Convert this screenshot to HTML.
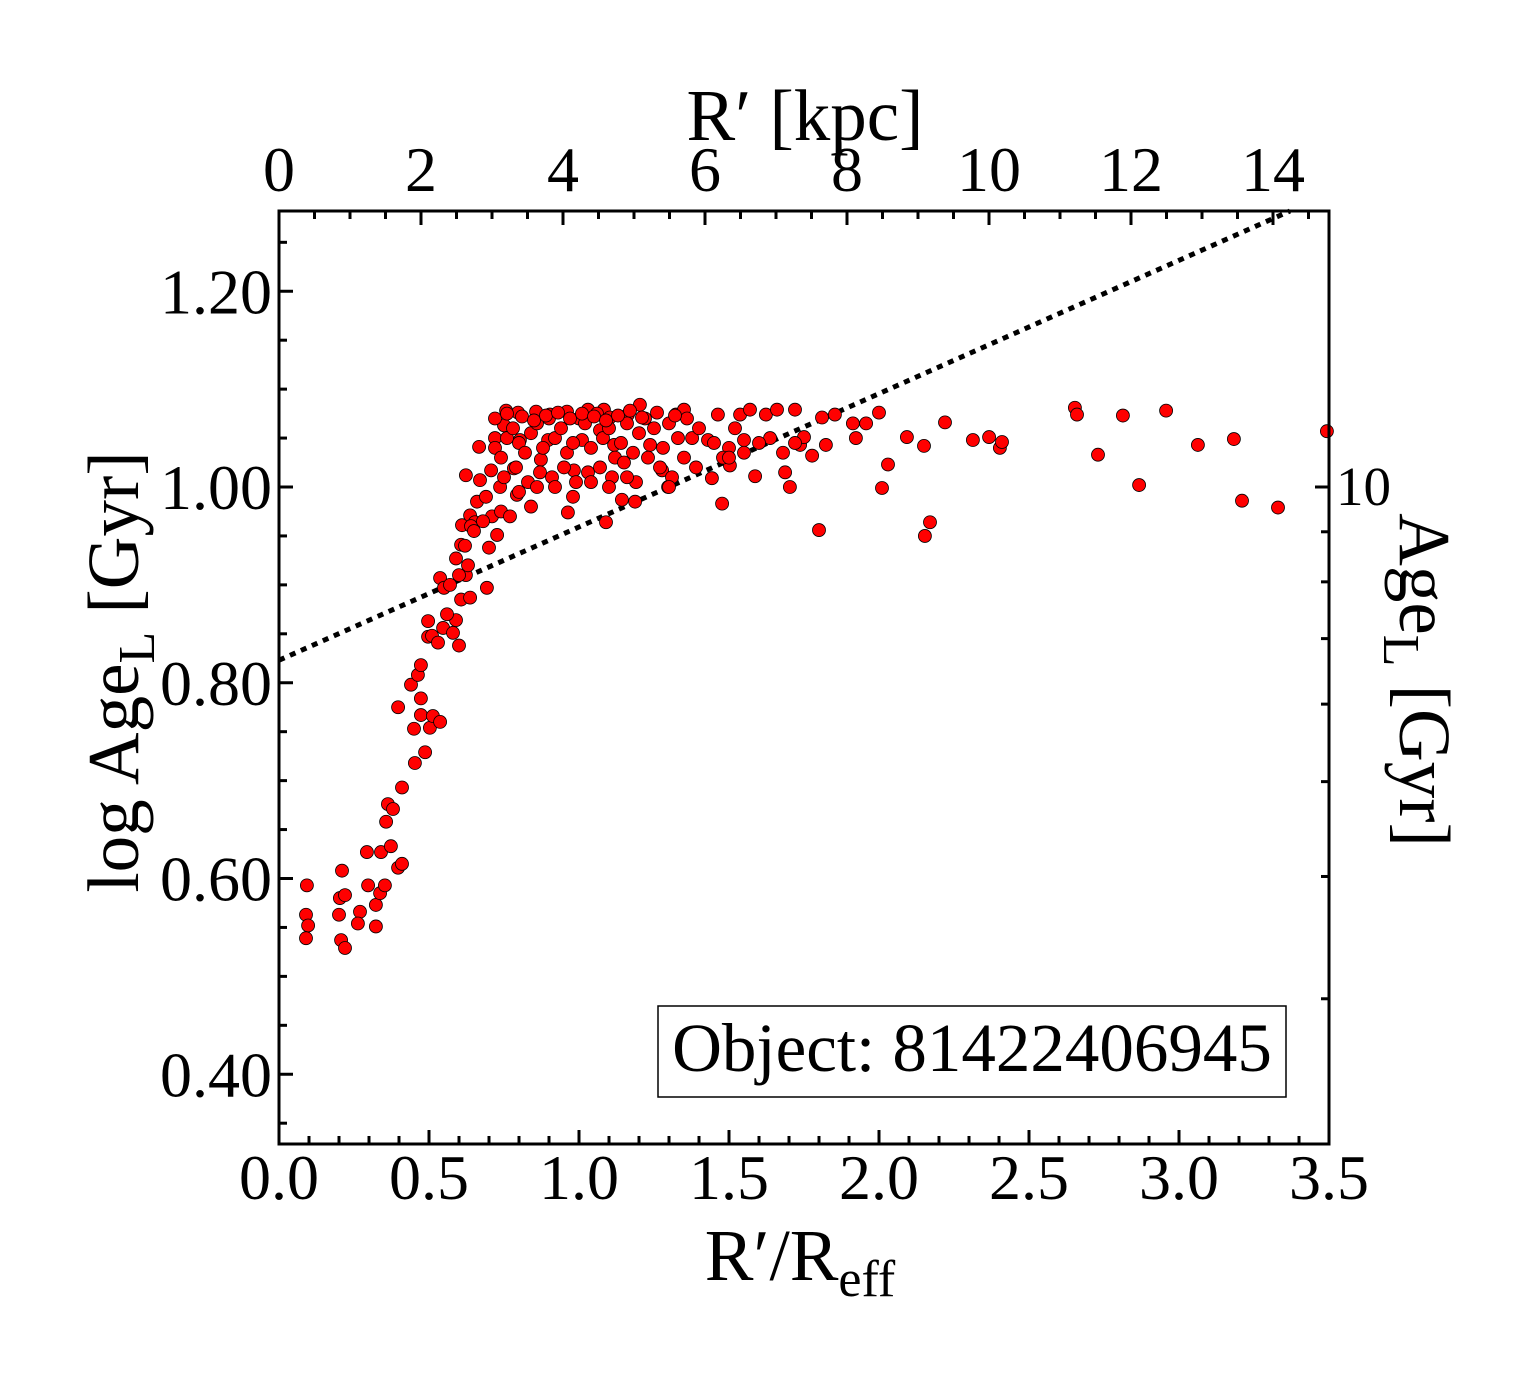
<!DOCTYPE html>
<html><head><meta charset="utf-8"><style>
body{margin:0;background:#fff;position:relative}
svg text{font-family:"Liberation Serif",serif;fill:#000;}
#chart{position:absolute;left:0;top:0}
</style></head><body>
<svg id="chart" width="1540" height="1375" xmlns="http://www.w3.org/2000/svg">
<g id="marks"></g>
<g id="axes"></g>
</svg>
<script>
const xs = [0.093,0.09,0.097,0.09,0.21,0.203,0.2,0.22,0.207,0.22,0.27,0.263,0.293,0.297,0.323,0.323,0.337,0.34,0.353,0.357,0.363,0.373,0.38,0.397,0.41,0.397,0.41,0.44,0.45,0.453,0.463,0.473,0.473,0.473,0.487,0.503,0.513,0.537,0.497,0.497,0.51,0.53,0.537,0.55,0.547,0.58,0.59,0.6,0.607,0.59,0.607,0.61,0.623,0.637,0.623,0.637,0.653,0.667,0.693,0.7,0.67,0.707,0.72,0.727,0.737,0.75,0.757,0.783,0.797,0.803,0.793,0.84,0.857,0.873,0.897,0.903,0.96,0.963,0.983,1.01,1.03,1.07,1.083,1.09,1.103,1.117,1.143,1.163,1.187,1.203,1.237,1.277,1.297,1.323,1.35,1.377,1.43,1.443,1.463,1.477,1.503,1.537,1.55,1.57,1.587,1.623,1.637,1.66,1.687,1.703,1.72,1.737,1.75,1.777,1.8,1.81,1.823,1.853,1.913,1.923,1.957,2.0,2.01,2.03,2.093,2.153,2.15,2.17,2.22,2.313,2.367,2.403,2.41,2.653,2.66,2.73,2.813,2.867,2.957,3.063,3.183,3.21,3.33,3.493,
0.72,0.74,0.76,0.78,0.8,0.82,0.84,0.86,0.88,0.9,0.92,0.94,0.96,0.98,1.0,1.02,1.04,1.06,1.08,1.1,1.12,1.14,1.16,1.18,1.2,1.22,1.25,1.28,1.3,1.33,1.36,1.4,1.45,1.5,1.52,0.75,0.79,0.83,0.87,0.91,0.95,0.99,1.03,1.07,1.11,1.15,1.19,1.23,1.27,1.31,1.35,1.39,1.48,1.55,1.6,1.68,0.72,0.76,0.81,0.85,0.89,0.93,0.97,1.01,1.05,1.09,1.13,1.17,1.21,1.26,1.32,0.64,0.66,0.69,0.71,0.74,0.77,0.8,0.86,0.92,0.98,1.04,1.1,1.16,1.3,1.5,1.72,0.62,0.65,0.68,0.57,0.6,0.63,0.56];
const ys = [0.593,0.563,0.552,0.539,0.608,0.58,0.563,0.583,0.537,0.529,0.566,0.554,0.627,0.593,0.551,0.573,0.585,0.627,0.593,0.658,0.676,0.633,0.671,0.611,0.615,0.775,0.693,0.798,0.753,0.718,0.808,0.784,0.818,0.767,0.729,0.754,0.766,0.760,0.863,0.847,0.848,0.841,0.907,0.897,0.856,0.851,0.864,0.838,0.885,0.927,0.941,0.961,0.910,0.887,1.012,0.971,0.964,1.041,0.897,0.938,1.007,1.017,1.05,0.951,1.0,1.063,1.078,1.019,1.076,1.048,0.992,0.980,1.077,1.028,1.048,1.074,1.077,0.974,1.017,1.048,1.079,1.058,1.079,0.964,1.071,1.043,0.987,1.074,0.985,1.084,1.043,1.017,1.0,1.074,1.079,1.05,1.048,1.009,1.074,0.983,1.022,1.074,1.048,1.079,1.011,1.074,1.05,1.079,1.015,1.0,1.079,1.043,1.051,1.032,0.956,1.071,1.043,1.074,1.065,1.05,1.065,1.076,0.999,1.023,1.051,0.95,1.042,0.964,1.066,1.048,1.051,1.04,1.046,1.081,1.074,1.033,1.073,1.002,1.078,1.043,1.049,0.986,0.979,1.057,
1.04,1.03,1.05,1.06,1.045,1.035,1.055,1.065,1.04,1.07,1.05,1.06,1.035,1.045,1.07,1.065,1.04,1.075,1.05,1.06,1.03,1.045,1.065,1.035,1.055,1.07,1.06,1.04,1.065,1.05,1.07,1.06,1.045,1.04,1.06,1.01,1.02,1.005,1.015,1.01,1.02,1.005,1.015,1.02,1.01,1.025,1.005,1.03,1.02,1.01,1.03,1.02,1.03,1.035,1.045,1.035,1.07,1.075,1.072,1.068,1.073,1.076,1.07,1.075,1.072,1.068,1.073,1.078,1.071,1.076,1.073,0.96,0.985,0.99,0.97,0.975,0.97,0.995,1.0,1.0,0.99,1.005,1.0,1.01,1.0,1.03,1.045,0.94,0.955,0.965,0.9,0.91,0.92,0.87];
const xTicks = [0.0,0.5,1.0,1.5,2.0,2.5,3.0,3.5];
const yTicks = [0.40,0.60,0.80,1.00,1.20];
const kpcTicks = [0,2,4,6,8,10,12,14];
const lineX = [0, 3.37];
const lineY = [0.823, 1.282];

const L=279,R=1329,T=211,B=1144;
const sx=v=>L+v*300;
const sy=v=>487-(v-1)*978.75;
const sk=v=>L+v*71;
const NS='http://www.w3.org/2000/svg';
function mk(tag,attrs,parent){const e=document.createElementNS(NS,tag);for(const k in attrs)e.setAttribute(k,attrs[k]);parent.appendChild(e);return e;}
const marks=document.getElementById('marks'), axes=document.getElementById('axes');

const ln=mk('line',{x1:sx(lineX[0]),y1:sy(lineY[0]),x2:sx(lineX[1]),y2:sy(lineY[1]),stroke:'#000','stroke-width':5,'stroke-dasharray':'6,6'},marks);


for(let i=0;i<xs.length;i++){
  const c=mk('circle',{cx:sx(xs[i]),cy:sy(ys[i]),r:6.5,fill:'#ff0000',stroke:'#000','stroke-width':0.8},marks);
  
  
}
const fr=mk('rect',{x:L,y:T,width:R-L,height:B-T,fill:'none',stroke:'#000','stroke-width':3},axes);


for(let v=0;v<=3.5001;v+=0.1){const maj=Math.abs(v*2-Math.round(v*2))<1e-6;const len=maj?14:8;
  mk('line',{x1:sx(v),y1:B,x2:sx(v),y2:B-len,stroke:'#000','stroke-width':3},axes);}
xTicks.forEach(v=>{const t=mk('text',{x:sx(v),y:B+55,'font-size':64,'text-anchor':'middle'},axes);t.textContent=v.toFixed(1);
  
  });
for(let v=0.35;v<=1.2801;v+=0.05){const maj=Math.abs(v*5-Math.round(v*5))<1e-6;const len=maj?14:8;
  mk('line',{x1:L,y1:sy(v),x2:L+len,y2:sy(v),stroke:'#000','stroke-width':3},axes);}
yTicks.forEach(v=>{const t=mk('text',{x:L-7,y:sy(v)+22,'font-size':64,'text-anchor':'end'},axes);t.textContent=v.toFixed(2);
  
  });
for(let v=0;v<=14.8;v+=0.5){const maj=Math.abs(v/2-Math.round(v/2))<1e-6;const len=maj?14:8;
  mk('line',{x1:sk(v),y1:T,x2:sk(v),y2:T+len,stroke:'#000','stroke-width':3},axes);}
kpcTicks.forEach(v=>{const t=mk('text',{x:sk(v),y:T-20,'font-size':64,'text-anchor':'middle'},axes);t.textContent=v;
  
  });
[3,4,5,6,7,8,9,10].forEach(a=>{const v=Math.log10(a);const len=a===10?14:8;
  mk('line',{x1:R,y1:sy(v),x2:R-len,y2:sy(v),stroke:'#000','stroke-width':3},axes);});
</script>
<svg style="position:absolute;left:0;top:0" width="1540" height="1375" xmlns="http://www.w3.org/2000/svg">
<text x="1336" y="505" font-size="55">10</text>
<text x="805" y="140" font-size="73" text-anchor="middle">R′ [kpc]</text>
<text x="800" y="1280" font-size="73" text-anchor="middle">R′/R<tspan font-size="52" dy="16">eff</tspan></text>
<text transform="translate(138,672) rotate(-90)" font-size="73" text-anchor="middle">log Age<tspan font-size="52" dy="16">L</tspan><tspan dy="-16"> [Gyr]</tspan></text>
<text transform="translate(1400,680) rotate(90)" font-size="73" text-anchor="middle">Age<tspan font-size="52" dy="16">L</tspan><tspan dy="-16"> [Gyr]</tspan></text>
<rect x="658" y="1006" width="628" height="91" fill="#fff" stroke="#000" stroke-width="1.5"/>
<text x="972" y="1071" font-size="69" text-anchor="middle">Object: 81422406945</text>
</svg>
</body></html>
